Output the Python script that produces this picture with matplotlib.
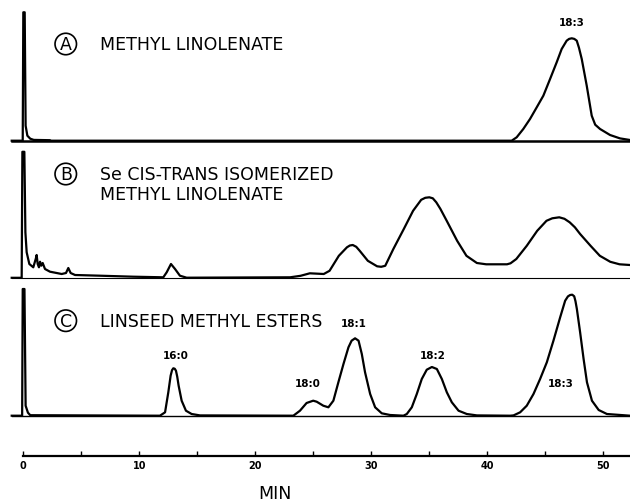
import numpy as np
import matplotlib
matplotlib.use("Agg")
import matplotlib.pyplot as plt

# --- traces (time in min, signal in chart units above baseline) ---
time_a = [-1.0, -0.05, 0.0, 0.12, 0.2, 0.35, 0.6, 0.9, 2.3, 2.4,
          42.1, 42.53, 43.1, 43.68, 44.26, 44.83, 45.41, 45.98, 46.41, 46.84, 47.05,
          47.28, 47.5, 47.71, 47.9, 48.14, 48.57, 49.0, 49.3, 49.72, 50.58, 51.44, 52.3]
signal_a = [0, 0, 128.4, 128.4, 15, 5, 2, 0.8, 0.5, 0,
            0, 3.4, 11.7, 21.7, 33.4, 45, 61.7, 78.4, 91.7, 100, 101.8,
            102.4, 101.8, 100, 93, 81.7, 55, 25, 16, 11.7, 5.7, 2.3, 0.7]

time_b = [-1.0, -0.14, -0.08, 0.09, 0.18, 0.29, 0.52, 0.86, 1.07, 1.15, 1.24, 1.35,
          1.44, 1.55, 1.67, 1.87, 2.3, 3.31, 3.68, 3.88, 4.08, 4.46, 6.61, 9.48,
          12.07, 12.36, 12.73, 13.08, 13.5, 14.08,
          23.0, 23.9, 24.7, 25.9, 26.4, 27.2, 27.9, 28.15, 28.4, 28.7, 29.0, 29.7,
          30.5, 30.85, 31.2, 31.9, 32.8, 33.6, 34.3, 34.65, 35.0, 35.3, 35.6, 35.95,
          36.5, 37.4, 38.2, 39.1, 39.9, 41.7, 42.0, 42.5, 43.4, 44.3, 45.1, 45.6,
          46.2, 46.65, 47.1, 47.55, 48.0, 48.9, 49.7, 50.6, 51.4, 52.3]
signal_b = [0, 0, 126, 126, 45.5, 25.5, 13.8, 10.5, 18.8, 22.8, 13.8, 10.5,
            16.1, 12.1, 14.8, 8.8, 6.1, 3.8, 4.8, 9.8, 4.8, 2.8, 2.1, 1.1,
            0.5, 5.5, 13.8, 8.8, 2.1, 0.1,
            0.5, 2, 4.5, 3.8, 7, 22, 30.5, 32.3, 32.8, 31, 27, 17,
            11.5, 11, 12, 28.8, 48.8, 67, 78, 80, 80.5, 79.5, 75.5, 69,
            57, 37, 22, 14.8, 13.5, 13.5, 14.5, 18.8, 32, 47, 57, 59.5,
            60.5, 59, 55.5, 50.5, 43.8, 32, 22, 16, 13.5, 12.8]

time_c = [-1.0, -0.1, -0.05, 0.1, 0.2, 0.4, 0.6,
          11.78, 12.22, 12.5, 12.7, 12.82, 12.93, 13.05, 13.16, 13.27, 13.39, 13.65,
          14.02, 14.51, 15.23,
          23.28, 23.85, 24.42, 24.99, 25.29, 25.86, 26.3, 26.73, 27.16, 27.6, 28.03,
          28.3, 28.6, 28.9, 29.18, 29.46, 29.9, 30.33, 30.9, 31.62, 32.77,
          33.06, 33.49, 33.92, 34.35, 34.78, 35.22, 35.65, 36.08, 36.51, 36.94,
          37.52, 38.23, 39.1, 41.97,
          42.26, 42.83, 43.4, 43.98, 44.55, 45.13, 45.7, 46.28, 46.71, 46.95, 47.14,
          47.32, 47.49, 47.6, 47.72, 48.0, 48.3, 48.59, 49.02, 49.6, 50.31, 52.3]
signal_c = [0, 0, 126.7, 126.7, 10, 3, 0.5,
            0, 3.4, 23.4, 40, 45.5, 47.4, 47, 45, 39, 30, 15,
            5, 1.7, 0.3,
            0, 5, 12.7, 15, 14, 10, 8.4, 15, 33.4, 51.7, 68.4,
            75, 77.4, 75, 61.7, 43.4, 21.7, 8.4, 2.4, 0.7, 0,
            1.7, 8.4, 21.7, 36.7, 46, 48.7, 46.7, 36.7, 23.4, 13.4,
            5, 1.7, 0.3, 0,
            0.3, 3.4, 10, 21.7, 36.7, 53.4, 75, 98.4, 115, 119.3, 120.7,
            121, 119.4, 114.5, 106.7, 83.4, 56.7, 33.4, 15, 5.7, 1.7, 0]

# peak labels (text, time, height of label)
labels_a = [("18:3", 47.3, 119)]
labels_c = [("16:0", 13.1, 60.7), ("18:0", 24.5, 32.7), ("18:1", 28.5, 92.4),
            ("18:2", 35.3, 60.7), ("18:3", 46.3, 32.7)]

tick_times = [0, 5, 10, 15, 20, 25, 30, 35, 40, 45, 50]
tick_labels = ["0", "", "10", "", "20", "", "30", "", "40", "", "50"]

W, H = 630, 502
T_LEFT, T_RIGHT = -2.009, 52.30
TITLE_FS = 12.5
LABEL_FS = 7.5

fig = plt.figure(figsize=(W / 100, H / 100), dpi=100)
fig.patch.set_facecolor("white")


def panel(top, bottom, baseline):
    ax = fig.add_axes([0, 1 - bottom / H, 1, (bottom - top) / H])
    ax.set_xlim(T_LEFT, T_RIGHT)
    ax.set_ylim(baseline - bottom, baseline - top)
    ax.axis("off")
    return ax


def circled(ax, letter, y):
    ax.text(3.66, y, letter, ha="center", va="center", fontsize=TITLE_FS,
            bbox=dict(boxstyle="circle,pad=0.1", fc="none", ec="black", lw=1.2))


ax_a = panel(0, 150, 141.7)
ax_b = panel(150, 285, 278.8)
ax_c = panel(285, 430, 416.7)

for ax, t, s, base_lw in [(ax_a, time_a, signal_a, 1.8),
                          (ax_b, time_b, signal_b, 0.8),
                          (ax_c, time_c, signal_c, 1.0)]:
    ax.plot([-1.0, T_RIGHT], [0, 0], color="black", lw=base_lw)
    ax.plot(t, s, color="black", lw=1.6, solid_joinstyle="round", clip_on=False)

circled(ax_a, "A", 96.7)
ax_a.text(6.61, 96.7, "METHYL LINOLENATE", ha="left", va="center", fontsize=TITLE_FS)

circled(ax_b, "B", 103.8)
ax_b.text(6.61, 103.8, "Se CIS-TRANS ISOMERIZED", ha="left", va="center", fontsize=TITLE_FS)
ax_b.text(6.61, 83.8, "METHYL LINOLENATE", ha="left", va="center", fontsize=TITLE_FS)

circled(ax_c, "C", 95)
ax_c.text(6.61, 95, "LINSEED METHYL ESTERS", ha="left", va="center", fontsize=TITLE_FS)

for ax, labs in [(ax_a, labels_a), (ax_c, labels_c)]:
    for txt, t, y in labs:
        ax.text(t, y, txt, ha="center", va="center", fontsize=LABEL_FS, fontweight="bold")

# time scale
ax_t = fig.add_axes([0, 1 - 456.7 / H, 1, 16.7 / H])
ax_t.set_xlim(T_LEFT, T_RIGHT)
ax_t.set_yticks([])
for side in ["top", "left", "right"]:
    ax_t.spines[side].set_visible(False)
ax_t.spines["bottom"].set_linewidth(1.6)
ax_t.spines["bottom"].set_bounds(0, T_RIGHT)
ax_t.patch.set_alpha(0)
ax_t.set_xticks(tick_times)
ax_t.set_xticklabels(tick_labels, fontsize=7, fontweight="bold")
ax_t.tick_params(axis="x", direction="in", length=3.5, width=1.0, pad=3)

fig.text(275 / W, 1 - 494 / H, "MIN", ha="center", va="center", fontsize=TITLE_FS)

fig.savefig("out.png", dpi=100, facecolor="white")
